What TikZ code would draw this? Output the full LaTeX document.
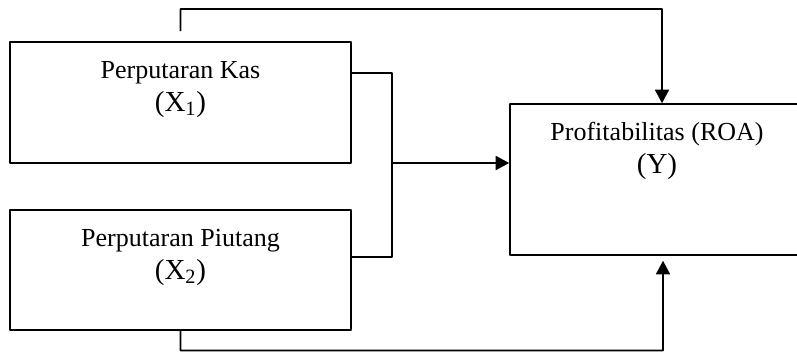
\documentclass[tikz,border=0pt]{standalone}
\usepackage{fontspec}
\setmainfont{Liberation Serif}
\usetikzlibrary{arrows.meta}
\begin{document}
\begin{tikzpicture}[line join=round, >={Triangle[length=2.7mm,width=2.8mm]}, line width=0.9pt,
  font=\fontsize{14.8}{18.8}\selectfont,
  var/.style={draw, rectangle, minimum width=6.82cm, inner sep=0pt},
  txt/.style={anchor=north, align=center, inner sep=0pt, yshift=-0.26cm}]
  \useasboundingbox (0,0) rectangle (15.94,7.04);
  % variables
  \node[var, minimum height=2.42cm] (kas) at (3.61,4.99) {};
  \node[var, minimum height=2.40cm] (piutang) at (3.61,1.64) {};
  \node[var, minimum width=5.88cm, minimum height=3.02cm] (roa) at (13.14,3.45) {};
  \node[txt] (kastxt) at (kas.north) {\strut Perputaran Kas\\{\fontsize{16.5}{18.8}\selectfont (X\textsubscript{1})}};
  \node[txt] (piutangtxt) at (piutang.north) {\strut Perputaran Piutang\\{\fontsize{16.5}{18.8}\selectfont (X\textsubscript{2})}};
  \node[txt] (roatxt) at (roa.north) {\strut Profitabilitas (ROA)\\{\fontsize{16.5}{18.8}\selectfont (Y)}};
  % connectors
  \coordinate (join) at (7.84,3.78);
  \coordinate (top) at (13.24,6.86);
  \coordinate (bot) at (13.26,0.03);
  \draw ([yshift=0.59cm]kas.east) -| (join) |- ([yshift=0.26cm]piutang.east);
  \draw[->] (join) -- (join -| roa.west);
  \draw[->, shorten <=2mm] (kas.north) |- (top) -- ([xshift=1mm]roa.north);
  \draw[->, shorten >=1mm] (piutang.south) |- (bot) -- ([xshift=1.2mm]roa.south);
\end{tikzpicture}
\end{document}
